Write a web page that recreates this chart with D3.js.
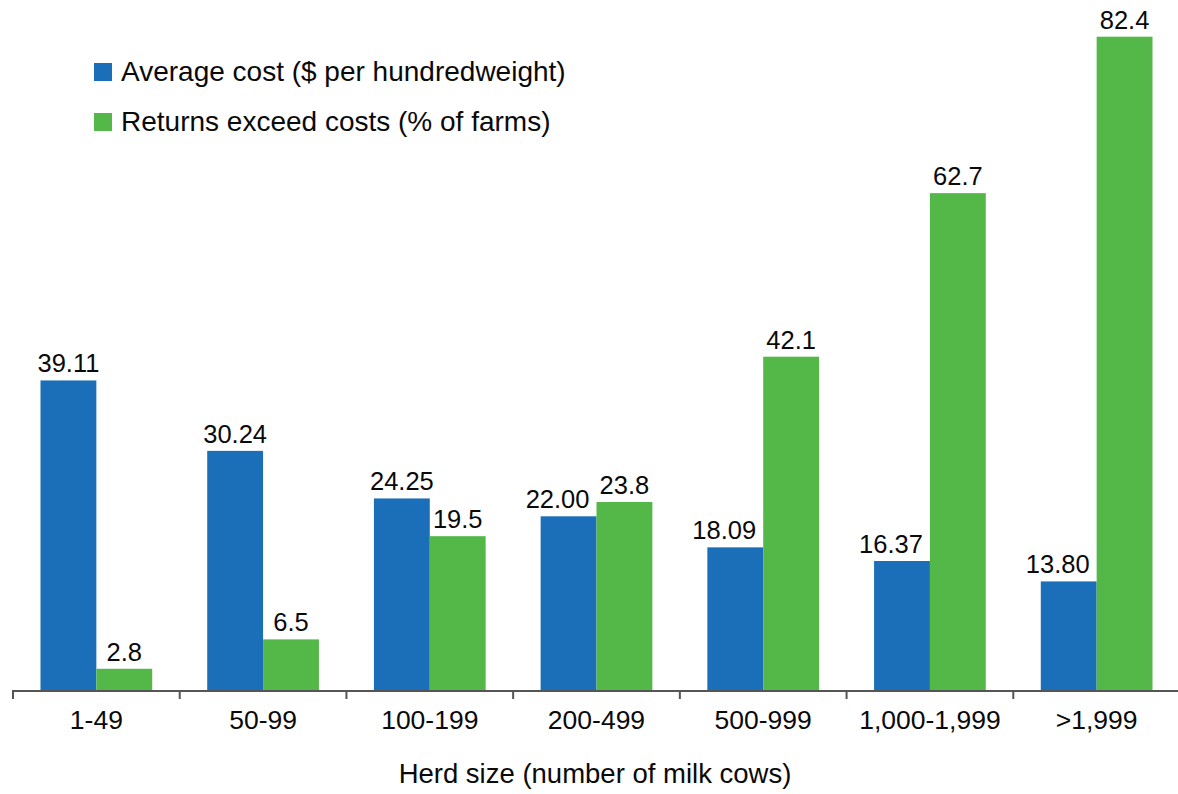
<html>
<head>
  <meta charset="utf-8">
  <title>Dairy costs by herd size</title>
  <style>
    body { margin: 0; background: #fff; }
    text { font-family: "Liberation Sans", Arial, sans-serif; fill: #0a0a0a; }
  </style>
  <script src="https://d3js.org/d3.v7.min.js"></script>
</head>
<body>
  <div id="chart"></div>
  <script>
    // Data
    const herdSizes = ["1-49", "50-99", "100-199", "200-499", "500-999", "1,000-1,999", ">1,999"];
    const avgCost = [39.11, 30.24, 24.25, 22.00, 18.09, 16.37, 13.80];
    const returnsExceed = [2.8, 6.5, 19.5, 23.8, 42.1, 62.7, 82.4];
    const seriesNames = ["Average cost ($ per hundredweight)", "Returns exceed costs (% of farms)"];
    const colors = ["#1a6fb8", "#53b848"];

    const W = 1178, H = 794;
    const baseY = 691;

    const svg = d3.select("#chart").append("svg")
      .attr("width", W)
      .attr("height", H);

    // Scales
    const x = d3.scaleBand().domain(herdSizes).range([13, 1180]);
    const x1 = d3.scaleBand().domain([0, 1]).range([27.5, x.bandwidth() - 27.5]);
    const y = d3.scaleLinear().domain([0, 82.4]).range([baseY, 36.7]);

    const rows = herdSizes.map((h, i) => ({ h, vals: [avgCost[i], returnsExceed[i]] }));

    // Bars + value labels
    const groups = svg.selectAll("g.grp").data(rows).join("g")
      .attr("class", "grp")
      .attr("transform", d => `translate(${x(d.h)},0)`);

    groups.selectAll("rect").data(d => d.vals.map((v, k) => ({ v, k }))).join("rect")
      .attr("x", d => x1(d.k))
      .attr("width", x1.bandwidth())
      .attr("y", d => y(d.v))
      .attr("height", d => baseY - y(d.v))
      .attr("fill", d => colors[d.k]);

    // blue labels get nudged left when the green bar beside them is taller
    groups.selectAll("text")
      .data(d => d.vals.map((v, k) => ({ v, k, nudge: k === 0 && d.vals[1] > v ? -11 : 0 })))
      .join("text")
      .attr("x", d => x1(d.k) + x1.bandwidth() / 2 + d.nudge)
      .attr("y", d => y(d.v) - 8)
      .attr("text-anchor", "middle")
      .style("font-size", "25.5px")
      .text(d => d.k === 0 ? d.v.toFixed(2) : d.v.toFixed(1));

    // Axis line with ticks at category boundaries
    svg.append("line")
      .attr("x1", 12).attr("x2", W)
      .attr("y1", baseY).attr("y2", baseY)
      .attr("stroke", "#555").attr("stroke-width", 2);

    const bounds = herdSizes.map(h => x(h)).concat([x.range()[1]]);
    svg.selectAll("line.tick").data(bounds).join("line")
      .attr("class", "tick")
      .attr("x1", d => d).attr("x2", d => d)
      .attr("y1", baseY).attr("y2", baseY + 8)
      .attr("stroke", "#555").attr("stroke-width", 2);

    svg.selectAll("text.cat").data(herdSizes).join("text")
      .attr("class", "cat")
      .attr("x", d => x(d) + x.bandwidth() / 2)
      .attr("y", 729)
      .attr("text-anchor", "middle")
      .style("font-size", "26.5px")
      .text(d => d);

    // Axis title
    svg.append("text")
      .attr("x", 595)
      .attr("y", 783)
      .attr("text-anchor", "middle")
      .style("font-size", "27.5px")
      .text("Herd size (number of milk cows)");

    // Legend
    const legend = svg.selectAll("g.leg").data(seriesNames).join("g")
      .attr("class", "leg")
      .attr("transform", (d, i) => `translate(94,${63 + i * 50})`);

    legend.append("rect")
      .attr("width", 18).attr("height", 18)
      .attr("fill", (d, i) => colors[i]);

    legend.append("text")
      .attr("x", 27)
      .attr("y", 18)
      .style("font-size", "28px")
      .text(d => d);
  </script>
</body>
</html>
